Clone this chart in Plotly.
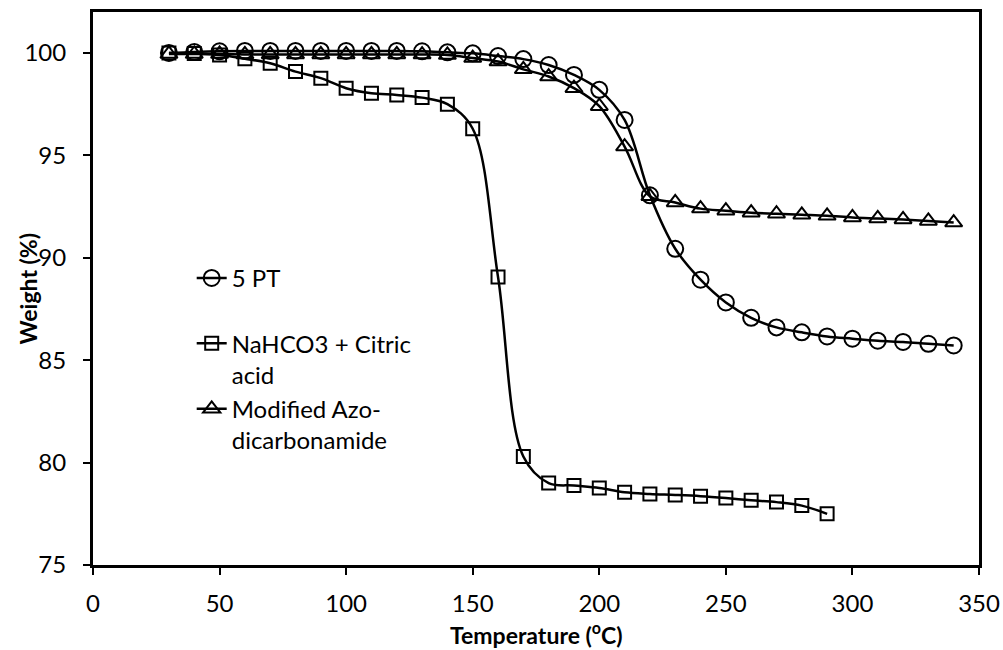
import plotly.graph_objects as go

temperature = [30, 40, 50, 60, 70, 80, 90, 100, 110, 120, 130, 140, 150, 160, 170, 180,
               190, 200, 210, 220, 230, 240, 250, 260, 270, 280, 290, 300, 310, 320, 330, 340]

pt5 = [100.0, 100.05, 100.08, 100.1, 100.1, 100.1, 100.1, 100.1, 100.1, 100.1, 100.08, 100.03,
       99.98, 99.85, 99.7, 99.41, 98.93, 98.2, 96.73, 93.05, 90.44, 88.93, 87.82, 87.07,
       86.6, 86.36, 86.16, 86.05, 85.95, 85.89, 85.8, 85.72]

temperature_nahco3 = [30, 40, 50, 60, 70, 80, 90, 100, 110, 120, 130, 140, 150, 160, 170,
                      180, 190, 200, 210, 220, 230, 240, 250, 260, 270, 280, 290]
nahco3 = [100.0, 99.97, 99.9, 99.72, 99.5, 99.09, 98.77, 98.28, 98.03, 97.95, 97.82, 97.5,
          96.3, 89.06, 80.3, 79.0, 78.88, 78.76, 78.55, 78.47, 78.42, 78.36, 78.27, 78.16,
          78.07, 77.9, 77.5]

azo = [99.95, 99.95, 99.95, 99.93, 99.93, 99.93, 99.93, 99.93, 99.93, 99.93, 99.92, 99.9,
       99.75, 99.58, 99.2, 98.85, 98.28, 97.4, 95.43, 93.0, 92.7, 92.4, 92.3, 92.2,
       92.15, 92.1, 92.05, 91.97, 91.92, 91.87, 91.8, 91.72]

names = ["5 PT<br>\u00a0", "NaHCO3 + Citric<br>acid", "Modified Azo-<br>dicarbonamide"]
x_ticks = [0, 50, 100, 150, 200, 250, 300, 350]
y_ticks = [75, 80, 85, 90, 95, 100]
x_title = "<b>Temperature (<sup>o</sup>C)</b>"
y_title = "<b>Weight (%)</b>"

FONT = "Lato"

fig = go.Figure()
fig.add_trace(go.Scatter(
    x=temperature, y=pt5, name=names[0], mode="lines+markers",
    line=dict(color="black", width=2.5, shape="spline", smoothing=1.0),
    marker=dict(symbol="circle-open", size=16, color="black", line=dict(width=2, color="black")),
))
fig.add_trace(go.Scatter(
    x=temperature_nahco3, y=nahco3, name=names[1], mode="lines+markers",
    line=dict(color="black", width=2.5, shape="spline", smoothing=1.0),
    marker=dict(symbol="square-open", size=13, color="black", line=dict(width=2, color="black")),
))
fig.add_trace(go.Scatter(
    x=temperature, y=azo, name=names[2], mode="lines+markers",
    line=dict(color="black", width=2.5, shape="spline", smoothing=1.0),
    marker=dict(symbol="triangle-up-open", size=15, color="black", line=dict(width=2, color="black")),
))

fig.update_layout(
    width=1003, height=650,
    margin=dict(l=93, r=24, t=12, b=85, autoexpand=False),
    paper_bgcolor="white", plot_bgcolor="white",
    font=dict(family=FONT, size=24, color="black"),
    showlegend=True,
    legend=dict(
        x=0.1114, y=0.559, xanchor="left", yanchor="top",
        bgcolor="rgba(0,0,0,0)", borderwidth=0,
        font=dict(family=FONT, size=24, color="black"),
        valign="top", tracegroupgap=0,
    ),
    xaxis=dict(
        range=[0, 350], tickvals=x_ticks, ticktext=[str(v) for v in x_ticks],
        showgrid=False, zeroline=False, automargin=False,
        showline=True, linecolor="black", linewidth=3, mirror=True,
        ticks="outside", ticklen=7, tickwidth=2, tickcolor="black",
        ticklabelstandoff=8,
        tickfont=dict(family=FONT, size=24, color="black"),
    ),
    yaxis=dict(
        range=[75, 102], tickvals=y_ticks, ticktext=[str(v) for v in y_ticks],
        showgrid=False, zeroline=False, automargin=False,
        showline=True, linecolor="black", linewidth=3, mirror=True,
        ticks="outside", ticklen=7, tickwidth=2, tickcolor="black",
        ticklabelstandoff=12,
        tickfont=dict(family=FONT, size=24, color="black"),
    ),
    annotations=[
        dict(text=x_title, xref="paper", yref="paper", x=0.5, y=-0.124,
             xanchor="center", yanchor="middle", showarrow=False,
             font=dict(family=FONT, size=23, color="black")),
        dict(text=y_title, xref="paper", yref="paper", x=-0.0734, y=0.5,
             xanchor="center", yanchor="middle", showarrow=False, textangle=-90,
             font=dict(family=FONT, size=23, color="black")),
    ],
)

fig.write_html("out.html")
